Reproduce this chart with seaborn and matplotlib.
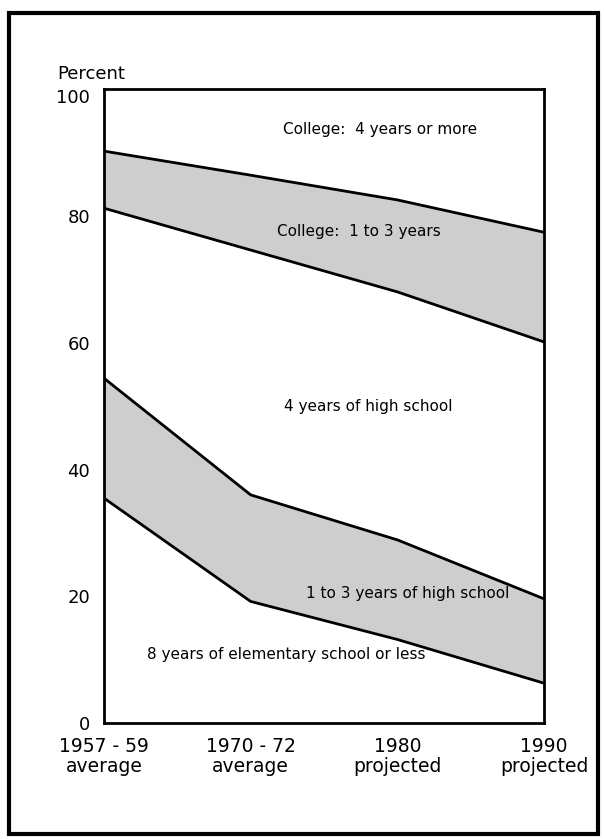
import seaborn as sns
import pandas as pd
import numpy as np
import matplotlib.pyplot as plt
from matplotlib.patches import Rectangle

# periods on the x axis
periods = ["1957 - 59\naverage", "1970 - 72\naverage", "1980\nprojected", "1990\nprojected"]

# boundary lines (percent of labor force, cumulative from the bottom)
elementary_top = [35.5, 19.2, 13.2, 6.3]      # 8 years of elementary school or less
hs_1to3_top = [54.4, 36.0, 28.9, 19.6]        # 1 to 3 years of high school
hs_4_top = [81.2, 74.6, 68.0, 60.1]           # 4 years of high school
college_1to3_top = [90.2, 86.4, 82.5, 77.4]   # college 1 to 3 years

band_labels = ["College:  4 years or more", "College:  1 to 3 years",
               "4 years of high school", "1 to 3 years of high school",
               "8 years of elementary school or less"]

x = np.arange(len(periods))
df = pd.DataFrame({
    "x": np.tile(x, 4),
    "pct": elementary_top + hs_1to3_top + hs_4_top + college_1to3_top,
    "line": np.repeat(["elem", "hs13", "hs4", "col13"], len(x)),
})

sns.set_style("white")
plt.rcParams['font.family'] = ['DejaVu Sans']
plt.rcParams['text.color'] = 'black'
plt.rcParams['xtick.color'] = 'black'
plt.rcParams['ytick.color'] = 'black'

fig = plt.figure(figsize=(6.04, 8.39), dpi=100)
ax = fig.add_axes([0.172, 0.138, 0.729, 0.756])

gray = "#cecece"
ax.fill_between(x, elementary_top, hs_1to3_top, color=gray, lw=0)
ax.fill_between(x, hs_4_top, college_1to3_top, color=gray, lw=0)

sns.lineplot(data=df, x="x", y="pct", units="line", estimator=None,
             color="black", lw=2, ax=ax, legend=False)

ax.set_xlim(0, 3)
ax.set_ylim(0, 100)
ax.set_xticks(x)
ax.set_xticklabels(periods, fontsize=13.5, linespacing=1.05)
ax.set_yticks([0, 20, 40, 60, 80, 100])
ax.set_yticklabels(["0", "20", "40", "60", "80", "100"], fontsize=13)
ax.get_yticklabels()[-1].set_va("top")
ax.tick_params(axis="both", direction="in", length=9, width=2)
ax.tick_params(axis="y", pad=10)
ax.tick_params(axis="x", pad=10)
ax.set_xlabel("")
ax.set_ylabel("")
for s in ax.spines.values():
    s.set_linewidth(2)
    s.set_color("black")

fs = 11
ax.text(1.88, 93.6, band_labels[0], ha="center", va="center", fontsize=fs)
ax.text(1.74, 77.5, band_labels[1], ha="center", va="center", fontsize=fs)
ax.text(1.80, 50.0, band_labels[2], ha="center", va="center", fontsize=fs)
ax.text(2.07, 20.5, band_labels[3], ha="center", va="center", fontsize=fs)
ax.text(1.24, 10.9, band_labels[4], ha="center", va="center", fontsize=fs)

fig.text(0.094, 0.912, "Percent", ha="left", va="center", fontsize=13)

# outer frame
fig.patches.append(Rectangle((0.015, 0.006), 0.975, 0.978, transform=fig.transFigure,
                             fill=False, lw=3, edgecolor="black"))

fig.savefig("out.png", dpi=100)
